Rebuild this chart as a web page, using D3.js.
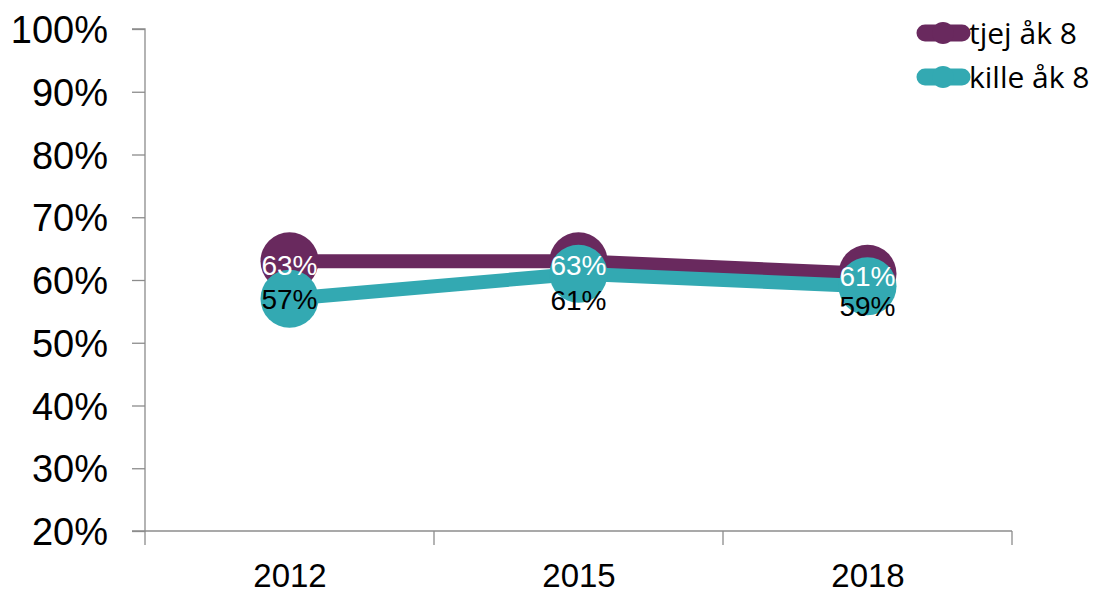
<!DOCTYPE html>
<html>
<head>
<meta charset="utf-8">
<script src="https://cdn.jsdelivr.net/npm/d3@7"></script>
<style>
  html, body { margin: 0; padding: 0; background: #fff; }
  svg { display: block; }
</style>
</head>
<body>
<svg id="chart" width="1098" height="594"></svg>
<script>
const categories = ["2012", "2015", "2018"];
const seriesNames = ["tjej åk 8", "kille åk 8"];
const tjej = [0.63, 0.63, 0.61];
const kille = [0.57, 0.61, 0.59];
const yTicks = [0.2, 0.3, 0.4, 0.5, 0.6, 0.7, 0.8, 0.9, 1.0];

(function () {
const colors = ["#69295E", "#33A9B2"];
const labelColors = ["#ffffff", "#000000"];
// vertical label offsets (px) relative to the point, per series/category
const labelDy = [[4, 4, 2], [0, 26, 20]];

const svg = d3.select("#chart");
const pLeft = 145, pRight = 1012, pTop = 29, pBottom = 531;

const x = d3.scalePoint().domain(categories).range([pLeft, pRight]).padding(0.5);
const xBand = d3.scaleBand().domain(categories).range([pLeft, pRight]);
const y = d3.scaleLinear().domain([0.2, 1.0]).range([pBottom, pTop]);

const axisColor = "#8c8c8c";
const fontFam = "'Liberation Sans', Arial, sans-serif";

// Y axis
const yAxis = d3.axisLeft(y).tickValues(yTicks).tickSize(13).tickPadding(24)
  .tickFormat(d3.format(".0%"));
const gy = svg.append("g").attr("transform", `translate(${pLeft},0)`).call(yAxis);
gy.select(".domain").attr("stroke", axisColor).attr("stroke-width", 1.3)
  .attr("d", `M-13,${pTop}H0V${pBottom}H-13`);
gy.selectAll(".tick line").attr("stroke", axisColor).attr("stroke-width", 1.3);
gy.selectAll(".tick text").attr("fill", "#000").style("font-family", fontFam)
  .style("font-size", "38px").attr("dy", "0.36em");

// X axis
const xAxis = d3.axisBottom(x).tickSize(0).tickPadding(33);
const gx = svg.append("g").attr("transform", `translate(0,${pBottom})`).call(xAxis);
gx.select(".domain").attr("stroke", axisColor).attr("stroke-width", 1.3)
  .attr("d", `M${pLeft},0H${pRight}`);
gx.selectAll(".tick text").attr("fill", "#000").style("font-family", fontFam)
  .style("font-size", "33px").attr("dy", "0.71em");
// boundary ticks
const bounds = categories.map(c => xBand(c)).concat([pRight]);
gx.selectAll(".bound").data(bounds).enter().append("line")
  .attr("class", "bound")
  .attr("x1", d => d).attr("x2", d => d).attr("y1", 0).attr("y2", 14)
  .attr("stroke", axisColor).attr("stroke-width", 1.3);

// Series
const series = [tjej, kille];
const line = d3.line().x((d, i) => x(categories[i])).y(d => y(d));

series.forEach((vals, s) => {
  const g = svg.append("g");
  g.append("path").datum(vals).attr("d", line)
    .attr("fill", "none").attr("stroke", colors[s]).attr("stroke-width", 14)
    .attr("stroke-linejoin", "round");
  g.selectAll("circle").data(vals).enter().append("circle")
    .attr("cx", (d, i) => x(categories[i])).attr("cy", d => y(d))
    .attr("r", 29).attr("fill", colors[s]);
});

series.forEach((vals, s) => {
  svg.append("g").selectAll("text").data(vals).enter().append("text")
    .attr("x", (d, i) => x(categories[i]))
    .attr("y", (d, i) => y(d) + labelDy[s][i])
    .attr("dy", "0.36em")
    .attr("text-anchor", "middle")
    .attr("fill", labelColors[s])
    .style("font-family", fontFam).style("font-size", "28px")
    .text(d => d3.format(".0%")(d));
});

// Legend
const legend = svg.append("g");
seriesNames.forEach((name, s) => {
  const ly = 33 + s * 44;
  legend.append("line").attr("x1", 925).attr("x2", 962).attr("y1", ly).attr("y2", ly)
    .attr("stroke", colors[s]).attr("stroke-width", 17).attr("stroke-linecap", "round");
  legend.append("circle").attr("cx", 943).attr("cy", ly).attr("r", 11).attr("fill", colors[s]);
  legend.append("text").attr("x", 969).attr("y", ly).attr("dy", "0.36em")
    .attr("fill", "#000").style("font-family", "'Liberation Sans Narrow', 'Open Sans', sans-serif")
    .style("font-size", "30px").text(name);
});
})();
</script>
</body>
</html>
